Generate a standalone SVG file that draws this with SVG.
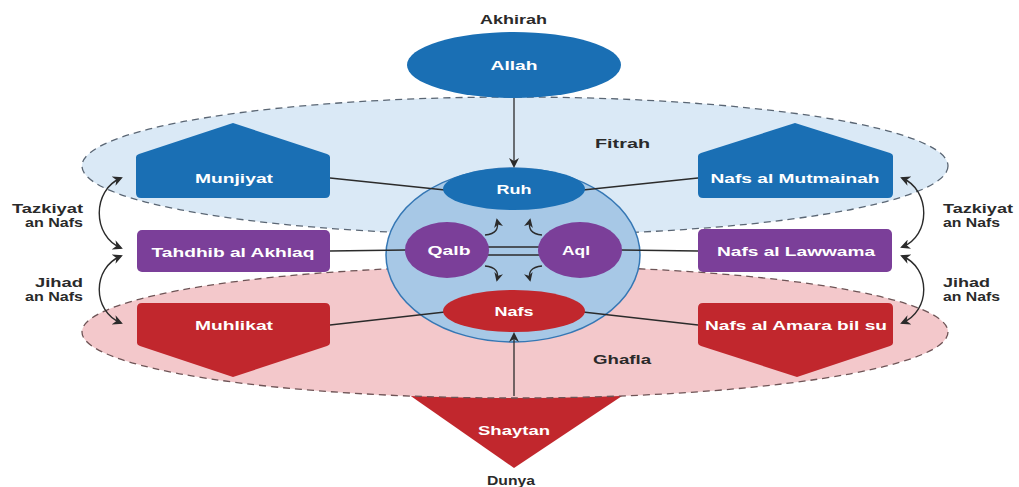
<svg xmlns="http://www.w3.org/2000/svg" width="1019" height="487" viewBox="0 0 1019 487">
<style>
.zone-f{fill:#dae9f6;stroke:#5a6674;stroke-width:1.3;stroke-dasharray:7 5}
.zone-g{fill:#f3c8cb;stroke:#6e5456;stroke-width:1.3;stroke-dasharray:7 5}
.blue{fill:#1a6fb4}
.purple{fill:#7b3f99}
.red{fill:#c1272d}
.conn{fill:none;stroke:#2b2b2b;stroke-width:1.3}
.arr{fill:none;stroke:#2b2b2b;stroke-width:1.4}
.nt{font-family:"Liberation Sans",Arial,sans-serif;font-weight:bold;font-size:13px;fill:#ffffff;text-anchor:middle}
.lt{font-family:"Liberation Sans",Arial,sans-serif;font-weight:bold;font-size:13.5px;fill:#2a2a2a}
</style>
<defs>
<marker id="ah" viewBox="0 0 10 10" refX="8" refY="5" markerWidth="9" markerHeight="9" markerUnits="userSpaceOnUse" orient="auto-start-reverse">
<path d="M0,0 L10,5 L0,10 L3,5 Z" fill="#2b2b2b"/>
</marker>
<marker id="ahs" viewBox="0 0 10 10" refX="8" refY="5" markerWidth="10" markerHeight="10" markerUnits="userSpaceOnUse" orient="auto-start-reverse">
<path d="M0,0 L10,5 L0,10 L3,5 Z" fill="#2b2b2b"/>
</marker>
</defs>

<g id="zone-fitrah">
<ellipse class="zone-f" cx="515" cy="166" rx="433" ry="69"/>
<text class="lt" x="595" y="148" textLength="55" lengthAdjust="spacingAndGlyphs">Fitrah</text>
</g>

<g id="shaytan">
<path class="red" d="M405,392 L628,392 L514,468 Z"/>
<text class="nt" x="514" y="435" textLength="72" lengthAdjust="spacingAndGlyphs">Shaytan</text>
</g>

<g id="zone-ghafla">
<ellipse class="zone-g" cx="515" cy="332" rx="433" ry="66"/>
<text class="lt" x="593" y="364" textLength="58" lengthAdjust="spacingAndGlyphs">Ghafla</text>
</g>

<g id="self">
<ellipse cx="513" cy="255" rx="127" ry="87" fill="#a7c8e6" stroke="#3577b4" stroke-width="1.5"/>
</g>

<g id="connectors">
<line class="conn" x1="514" y1="98" x2="514" y2="166" marker-end="url(#ahs)"/>
<line class="conn" x1="514" y1="396" x2="514" y2="334" marker-end="url(#ahs)"/>
<line class="conn" x1="330" y1="178" x2="445" y2="190"/>
<line class="conn" x1="698" y1="178" x2="583" y2="190"/>
<line class="conn" x1="330" y1="251" x2="406" y2="250"/>
<line class="conn" x1="698" y1="251" x2="621" y2="250"/>
<line class="conn" x1="330" y1="325" x2="445" y2="312"/>
<line class="conn" x1="698" y1="325" x2="583" y2="312"/>
<line class="conn" x1="488" y1="247" x2="540" y2="247"/>
<line class="conn" x1="488" y1="255" x2="540" y2="255"/>
<path class="arr" d="M485,235 C496,234 499,229 497,220" marker-end="url(#ah)"/>
<path class="arr" d="M542,235 C531,234 528,229 530,220" marker-end="url(#ah)"/>
<path class="arr" d="M485,266 C496,267 499,272 497,280" marker-end="url(#ah)"/>
<path class="arr" d="M542,266 C531,267 528,272 530,280" marker-end="url(#ah)"/>
<path class="arr" d="M121,178 C92,190 92,236 121,248" marker-start="url(#ahs)" marker-end="url(#ahs)"/>
<path class="arr" d="M121,256 C92,268 92,311 121,323" marker-start="url(#ahs)" marker-end="url(#ahs)"/>
<path class="arr" d="M902,178 C931,190 931,236 902,247" marker-start="url(#ahs)" marker-end="url(#ahs)"/>
<path class="arr" d="M902,256 C931,268 931,311 902,323" marker-start="url(#ahs)" marker-end="url(#ahs)"/>
</g>

<g id="akhirah">
<text class="lt" x="480" y="24" textLength="67" lengthAdjust="spacingAndGlyphs">Akhirah</text>
</g>
<g id="allah">
<ellipse class="blue" cx="514" cy="65" rx="107" ry="33"/>
<text class="nt" x="514" y="70" textLength="47" lengthAdjust="spacingAndGlyphs">Allah</text>
</g>
<g id="ruh">
<ellipse class="blue" cx="514" cy="189" rx="71" ry="21"/>
<text class="nt" x="514" y="194" textLength="35" lengthAdjust="spacingAndGlyphs">Ruh</text>
</g>
<g id="nafs">
<ellipse class="red" cx="514" cy="311" rx="71" ry="21"/>
<text class="nt" x="514" y="316" textLength="39" lengthAdjust="spacingAndGlyphs">Nafs</text>
</g>
<g id="qalb">
<ellipse class="purple" cx="447" cy="250" rx="42" ry="28"/>
<text class="nt" x="449" y="255" textLength="43" lengthAdjust="spacingAndGlyphs">Qalb</text>
</g>
<g id="aql">
<ellipse class="purple" cx="580" cy="250" rx="42" ry="28"/>
<text class="nt" x="576" y="255" textLength="28" lengthAdjust="spacingAndGlyphs">Aql</text>
</g>

<g id="munjiyat">
<path class="blue" d="M136,157 Q136,155 139,154 L233,123 L327,154 Q330,155 330,157 L330,193 Q330,198 325,198 L141,198 Q136,198 136,193 Z"/>
<text class="nt" x="234" y="183" textLength="78" lengthAdjust="spacingAndGlyphs">Munjiyat</text>
</g>
<g id="mutmainah">
<path class="blue" d="M698,156 Q698,154 701,153 L795,123 L890,153 Q893,154 893,156 L893,193 Q893,198 888,198 L703,198 Q698,198 698,193 Z"/>
<text class="nt" x="795" y="183" textLength="169" lengthAdjust="spacingAndGlyphs">Nafs al Mutmainah</text>
</g>
<g id="tahdhib">
<rect class="purple" x="137" y="230" width="193" height="42" rx="5"/>
<text class="nt" x="233" y="257" textLength="163" lengthAdjust="spacingAndGlyphs">Tahdhib al Akhlaq</text>
</g>
<g id="lawwama">
<rect class="purple" x="698" y="229" width="194" height="43" rx="5"/>
<text class="nt" x="796" y="256" textLength="158" lengthAdjust="spacingAndGlyphs">Nafs al Lawwama</text>
</g>
<g id="muhlikat">
<path class="red" d="M142,303 L325,303 Q330,303 330,308 L330,343 Q330,345 327,346 L233,377 L140,346 Q137,345 137,343 L137,308 Q137,303 142,303 Z"/>
<text class="nt" x="234" y="330" textLength="78" lengthAdjust="spacingAndGlyphs">Muhlikat</text>
</g>
<g id="amara">
<path class="red" d="M703,303 L888,303 Q893,303 893,308 L893,343 Q893,345 890,346 L797,377 L701,346 Q698,345 698,343 L698,308 Q698,303 703,303 Z"/>
<text class="nt" x="796" y="330" textLength="182" lengthAdjust="spacingAndGlyphs">Nafs al Amara bil su</text>
</g>

<g id="side-labels">
<text class="lt" x="12" y="213" textLength="71" lengthAdjust="spacingAndGlyphs">Tazkiyat</text>
<text class="lt" x="25" y="227" textLength="58" lengthAdjust="spacingAndGlyphs">an Nafs</text>
<text class="lt" x="35" y="287" textLength="48" lengthAdjust="spacingAndGlyphs">Jihad</text>
<text class="lt" x="25" y="301" textLength="58" lengthAdjust="spacingAndGlyphs">an Nafs</text>
<text class="lt" x="943" y="213" textLength="70" lengthAdjust="spacingAndGlyphs">Tazkiyat</text>
<text class="lt" x="943" y="227" textLength="57" lengthAdjust="spacingAndGlyphs">an Nafs</text>
<text class="lt" x="943" y="287" textLength="47" lengthAdjust="spacingAndGlyphs">Jihad</text>
<text class="lt" x="943" y="301" textLength="57" lengthAdjust="spacingAndGlyphs">an Nafs</text>
</g>

<g id="dunya">
<text class="lt" x="487" y="485" textLength="48" lengthAdjust="spacingAndGlyphs">Dunya</text>
</g>
</svg>
